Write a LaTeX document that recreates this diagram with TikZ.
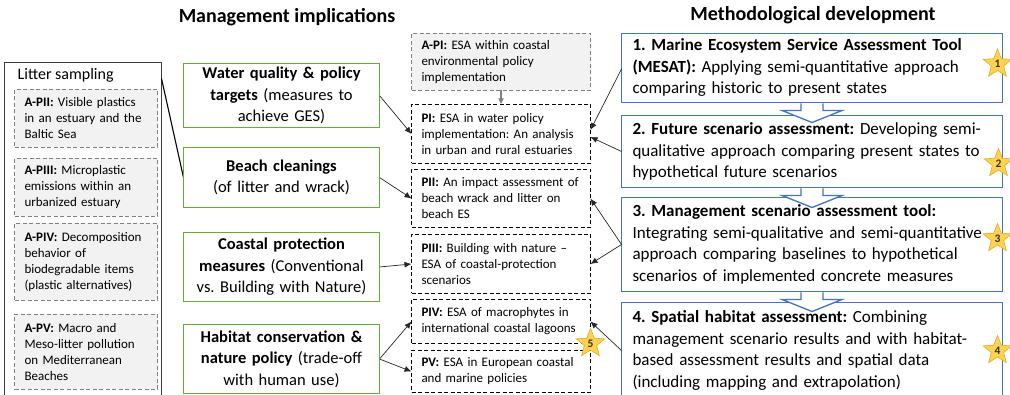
\documentclass[tikz,border=0pt]{standalone}
\usepackage{fontspec}
\setmainfont{Carlito}
\usetikzlibrary{calc,arrows.meta,shapes.geometric}

\definecolor{mesatblue}{RGB}{68,114,196}
\definecolor{mgmtgreen}{RGB}{104,170,60}
\definecolor{stargold}{RGB}{255,210,80}
\definecolor{staredge}{RGB}{230,170,40}
\definecolor{paperfill}{RGB}{242,242,242}
\definecolor{dashgray}{RGB}{128,128,128}
\definecolor{litterline}{RGB}{60,60,60}

\tikzset{
  box/.style = {anchor=north west, outer sep=0pt, inner ysep=2},
  paper/.style = {box, draw=black, line width=1.2pt, dash pattern=on 4pt off 2.5pt,
    minimum width=179, text width=159, inner xsep=10, align=left,
    font=\fontsize{13}{16}\selectfont},
  appendix/.style = {draw=dashgray, fill=paperfill},
  litterbox/.style = {paper, appendix, minimum width=143, text width=123},
  measure/.style = {box, minimum width=196, text width=184,
    inner xsep=6, align=center, font=\fontsize{16.5}{21.5}\selectfont},
  measureframe/.style = {draw=mgmtgreen, line width=1.6pt},
  method/.style = {box, draw=mesatblue, line width=1.6pt, minimum width=381,
    text width=359, inner xsep=11, align=left, font=\fontsize{17}{21.5}\selectfont},
  link/.style = {-{Latex[length=7pt,width=6pt]}, line width=0.7pt, draw=black!85},
  blockarrow/.style = {draw=mesatblue, line width=1.3pt, fill=white, line join=miter},
  starmark/.style = {star, star points=5, star point ratio=2.3, minimum size=30, inner sep=0pt,
    fill=stargold, draw=staredge, line width=0.6pt, font=\bfseries\fontsize{11.5}{11.5}\selectfont, text=black!80},
  heading/.style = {font=\bfseries\fontsize{20}{24}\selectfont}
}

\begin{document}
\frenchspacing
\begin{tikzpicture}[x=1pt, y=-1pt]
\useasboundingbox (0,0) rectangle (1010,395);

\node[heading] (mgmt) at (287,17) {Management implications};
\node[heading] (meth) at (813,15) {Methodological development};

% litter sampling column
\node[box, draw=litterline, line width=1.4pt, minimum width=157, minimum height=340] (litter) at (4.5,62.5) {};
\node[anchor=west, inner sep=0pt, font=\fontsize{16}{19}\selectfont] (littertitle) at ($(litter.north west)+(13,13)$) {Litter sampling};
\node[litterbox, minimum height=58] (apii) at (14.5,89.5) {\textbf{A-PII:} Visible plastics\\in an estuary and the\\Baltic Sea};
\node[litterbox, minimum height=58] (apiii) at (14.5,158.5) {\textbf{A-PIII:} Microplastic\\emissions within an\\urbanized estuary};
\node[litterbox, minimum height=77] (apiv) at (14.5,223.5) {\textbf{A-PIV:} Decomposition\\behavior of\\biodegradable items\\(plastic alternatives)};
\node[litterbox, minimum height=75] (apv) at (14.5,314.5) {\textbf{A-PV:} Macro and\\Meso-litter pollution\\on Mediterranean\\Beaches};

% management measures
\node[measure, minimum height=64] (wq) at (183.5,63.5) {\textbf{Water quality \& policy}\\\textbf{targets} (measures to\\achieve GES)};
\node[measure, minimum height=60] (beach) at (183.5,147.5) {\textbf{Beach cleanings}\\(of litter and wrack)};
\node[measure, minimum height=69] (coast) at (183.5,232.5) {\textbf{Coastal protection}\\\textbf{measures} (Conventional\\vs. Building with Nature)};
\node[measure, minimum height=69] (habitat) at (183.5,324.5) {\textbf{Habitat conservation \&}\\\textbf{nature policy} (trade-off\\with human use)};

% papers
\node[paper, appendix, minimum height=57] (api) at (411.5,33.5) {\textbf{A-PI:} ESA within coastal\\environmental policy\\implementation};
\node[paper, minimum height=59] (p1) at (411.5,104.5) {\textbf{PI:} ESA in water policy\\implementation: An analysis\\in urban and rural estuaries};
\node[paper, minimum height=58] (p2) at (411.5,169.5) {\textbf{PII:} An impact assessment of\\beach wrack and litter on\\beach ES};
\node[paper, minimum height=59] (p3) at (411.5,234.5) {\textbf{PIII:} Building with nature --\\ESA of coastal-protection\\scenarios};
\node[paper, minimum height=44] (p4) at (411.5,299.5) {\textbf{PIV:} ESA of macrophytes in\\international coastal lagoons};
\node[paper, minimum height=42] (p5) at (411.5,350.5) {\textbf{PV:} ESA in European coastal\\and marine policies};

% methods
\node[method, minimum height=69] (m1) at (621.5,33.5) {\textbf{1. Marine Ecosystem Service Assessment Tool}\\\textbf{(MESAT):} Applying semi-quantitative approach\\comparing historic to present states};
\node[method, minimum height=72] (m2) at (621.5,115.5) {\textbf{2. Future scenario assessment:} Developing semi-\\qualitative approach comparing present states to\\hypothetical future scenarios};
\node[method, minimum height=94] (m3) at (621.5,197.5) {\textbf{3. Management scenario assessment tool:}\\Integrating semi-qualitative and semi-quantitative\\approach comparing baselines to hypothetical\\scenarios of implemented concrete measures};
\node[method, minimum height=96] (m4) at (621.5,302.5) {\textbf{4. Spatial habitat assessment:} Combining\\management scenario results and with habitat-\\based assessment results and spatial data\\(including mapping and extrapolation)};

\foreach \a/\b in {m1/m2, m2/m3, m3/m4}{
  \draw[blockarrow] ($(\a.south)+(-11,1)$) -- ++(0,7) -- ++(-19,0) -- ($(\a.south)+(0,20)$)
    -- ($(\a.south)+(30,8)$) -- ++(-19,0) -- ++(0,-7);
}

% connectors
\draw[line width=1.1pt] ($(litter.north east)+(0,16)$) -- (beach.west);
\draw[-{Latex[length=6pt,width=6pt]}, line width=1.2pt, dashgray] (api.south) -- (p1.north);
\draw[link] (wq.east) -- (p1.west);
\draw[link] (beach.east) -- (p2.west);
\draw[link] (coast.east) -- (p3.west);
\draw[link] (habitat.east) -- (p4.west);
\draw[link] (habitat.east) -- (p5.west);
\draw[link] ($(m1.west)+(0,1)$) -- ($(p1.east)+(0,-4)$);
\draw[link] (m2.west) -- ($(p1.east)+(0,3)$);
\draw[link] (m3.west) -- (p2.east);
\draw[link] (m3.west) -- (p3.east);
\draw[link] (m4.west) -- (p4.east);

% numbered stars
\node[starmark] (s1) at ($(m1.east)+(-5,-4)$) {1};
\node[starmark] (s2) at ($(m2.east)+(-4,12)$) {2};
\node[starmark] (s3) at ($(m3.east)+(-5,-6)$) {3};
\node[starmark] (s4) at ($(m4.east)+(-5,0)$) {4};
\node[starmark] (s5) at (p4.south east) {5};

% green frames round the measures
\foreach \n in {wq, beach, coast, habitat}
  \draw[measureframe] (\n.north west) rectangle (\n.south east);
\end{tikzpicture}
\end{document}
